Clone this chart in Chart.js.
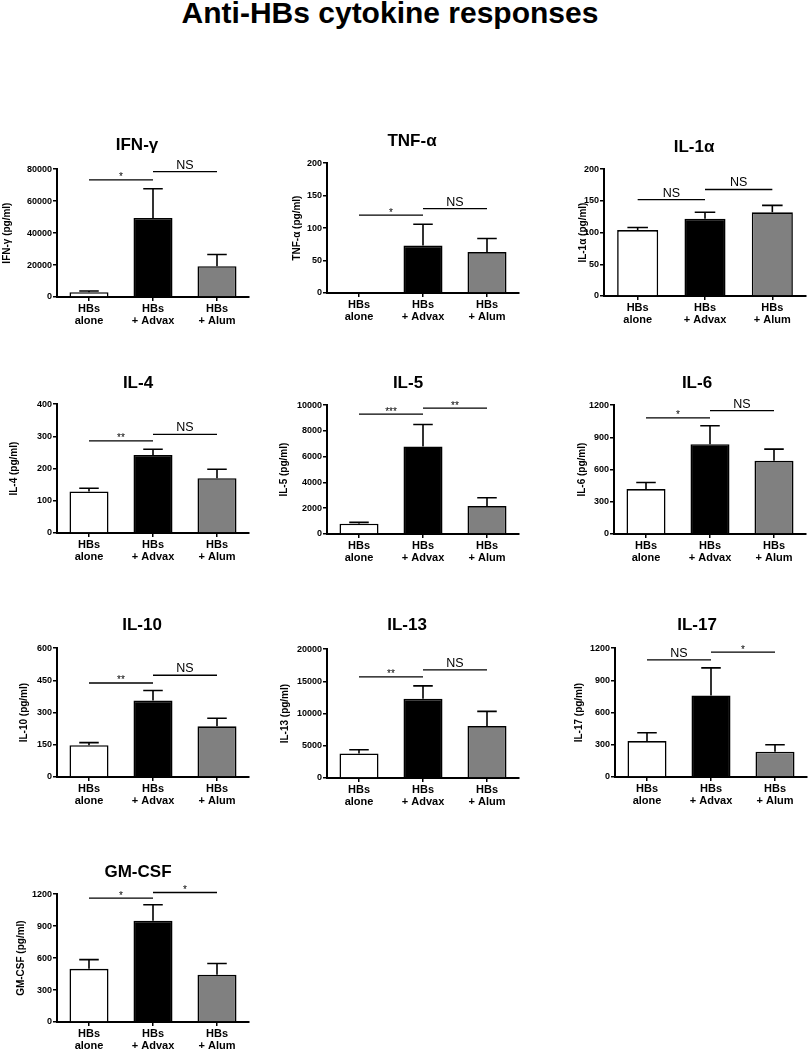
<!DOCTYPE html>
<html>
<head>
<meta charset="utf-8">
<script src="https://cdn.jsdelivr.net/npm/chart.js@4.4.1/dist/chart.umd.min.js"></script>
<style>
  html, body { margin: 0; padding: 0; background: #fff; overflow: hidden; }
  body { width: 809px; height: 1050px; position: relative; }
  #title { position: absolute; left: 0; top: -2px; width: 780px; text-align: center;
           font: bold 30px/1 Arial, "Liberation Sans", sans-serif; color: #000; }
  canvas { position: absolute; }
</style>
</head>
<body>
<div id="title">Anti-HBs cytokine responses</div>
<script>
// groups on the x axis (same for every panel)
const groupLabels = [['HBs', 'alone'], ['HBs', '+ Advax'], ['HBs', '+ Alum']];
const groupColors = ['#ffffff', '#000000', '#808080'];

const cytokines = ['IFN-γ', 'TNF-α', 'IL-1α', 'IL-4', 'IL-5', 'IL-6', 'IL-10', 'IL-13', 'IL-17', 'GM-CSF'];

// mean and SEM (pg/ml)
const ifnMean = [3000, 49500, 19300];
const ifnSem = [800, 18300, 7300];
const tnfMean = [0, 73, 63];
const tnfSem = [0, 33, 21];
const il1aMean = [104, 122, 132];
const il1aSem = [4, 10, 11];
const il4Mean = [129, 242, 170];
const il4Sem = [10, 18, 28];
const il5Mean = [800, 6800, 2170];
const il5Sem = [100, 1700, 640];
const il6Mean = [419, 837, 682];
const il6Sem = [61, 171, 109];
const il10Mean = [148, 356, 236];
const il10Sem = [12, 47, 38];
const il13Mean = [3820, 12300, 8060];
const il13Sem = [570, 2000, 2280];
const il17Mean = [335, 760, 236];
const il17Sem = [77, 257, 65];
const gmcsfMean = [499, 951, 443];
const gmcsfSem = [87, 150, 106];

// significance bars: [from group, to group, height (pg/ml), label]
const ifnSig = [[0, 1, 73300, '*'], [1, 2, 78500, 'NS']];
const tnfSig = [[0, 1, 120, '*'], [1, 2, 130, 'NS']];
const il1aSig = [[0, 1, 152, 'NS'], [1, 2, 168, 'NS']];
const il4Sig = [[0, 1, 286, '**'], [1, 2, 306, 'NS']];
const il5Sig = [[0, 1, 9300, '***'], [1, 2, 9770, '**']];
const il6Sig = [[0, 1, 1082, '*'], [1, 2, 1150, 'NS']];
const il10Sig = [[0, 1, 438, '**'], [1, 2, 474, 'NS']];
const il13Sig = [[0, 1, 15700, '**'], [1, 2, 16800, 'NS']];
const il17Sig = [[0, 1, 1091, 'NS'], [1, 2, 1163, '*']];
const gmcsfSig = [[0, 1, 1163, '*'], [1, 2, 1216, '*']];

// y axis range
const axisMax = [80000, 200, 200, 400, 10000, 1200, 600, 20000, 1200, 1200];
const axisStep = [20000, 50, 50, 100, 2000, 300, 150, 5000, 300, 300];

const means = [ifnMean, tnfMean, il1aMean, il4Mean, il5Mean, il6Mean, il10Mean, il13Mean, il17Mean, gmcsfMean];
const sems = [ifnSem, tnfSem, il1aSem, il4Sem, il5Sem, il6Sem, il10Sem, il13Sem, il17Sem, gmcsfSem];
const sigs = [ifnSig, tnfSig, il1aSig, il4Sig, il5Sig, il6Sig, il10Sig, il13Sig, il17Sig, gmcsfSig];

// page layout: title x, title y, y-title x, plot left, right, top, bottom
const frames = [
  [137, 145, 7, 57, 249, 169, 297],
  [413, 141, 297, 327, 519, 163, 293],
  [707, 147, 583, 604, 806, 169, 296],
  [138, 383, 14, 57, 249, 404, 533],
  [408, 383, 284, 327, 519, 405, 534],
  [697, 383, 582, 614, 806, 405, 534],
  [142, 625, 24, 57, 249, 648, 777],
  [407, 625, 285, 327, 519, 649, 778],
  [697, 625, 579, 615, 807, 648, 777],
  [138, 872, 21, 57, 249, 894, 1022]
];

const FONT = 'Arial, "Liberation Sans", sans-serif';
Chart.defaults.font.family = FONT;
Chart.defaults.color = '#000';

function makeChart(k) {
  const [titleX, titleY, yTitleX, plotL, plotR, plotT, plotB] = frames[k];
  const left = Math.round(yTitleX - 8);
  const top = Math.round(titleY - 12.2);
  const width = plotR - left + 4;
  const height = Math.round(plotB - top + 40);
  // the title is centred between the left padding and the plot's right edge;
  // keep at least 22px for the tick labels
  const padL = Math.min(2 * titleX - plotR - left, plotL - left - 22);
  const yTitlePad = (yTitleX - 6) - (left + padL);
  const mean = means[k], sem = sems[k], sig = sigs[k];

  const cv = document.createElement('canvas');
  cv.width = width;
  cv.height = height;
  cv.style.left = left + 'px';
  cv.style.top = top + 'px';
  cv.style.width = width + 'px';
  cv.style.height = height + 'px';
  document.body.appendChild(cv);

  // error bars and significance lines, placed through the scales
  const marks = {
    id: 'marks',
    afterDatasetsDraw(chart) {
      const ctx = chart.ctx;
      const x = chart.scales.x, y = chart.scales.y;
      const bars = chart.getDatasetMeta(0).data;
      ctx.save();
      ctx.strokeStyle = '#000';
      ctx.fillStyle = '#000';
      ctx.lineWidth = 1.6;
      mean.forEach((m, i) => {
        if (!sem[i]) return;
        const bx = bars[i].x, half = bars[i].width / 4;
        const y0 = y.getPixelForValue(m), y1 = y.getPixelForValue(m + sem[i]);
        ctx.beginPath();
        ctx.moveTo(bx, y0);
        ctx.lineTo(bx, y1);
        ctx.moveTo(bx - half, y1);
        ctx.lineTo(bx + half, y1);
        ctx.stroke();
      });
      ctx.lineWidth = 1.3;
      ctx.textAlign = 'center';
      ctx.textBaseline = 'alphabetic';
      sig.forEach(([a, b, v, txt]) => {
        const yy = y.getPixelForValue(v);
        const xa = x.getPixelForValue(a), xb = x.getPixelForValue(b);
        ctx.beginPath();
        ctx.moveTo(xa, yy);
        ctx.lineTo(xb, yy);
        ctx.stroke();
        if (txt === 'NS') {
          ctx.font = '12.5px ' + FONT;
          ctx.fillText(txt, (xa + xb) / 2, yy - 3);
        } else {
          ctx.font = '10px ' + FONT;
          ctx.fillText(txt, (xa + xb) / 2, yy + 0.5);
        }
      });
      ctx.restore();
    }
  };

  new Chart(cv, {
    type: 'bar',
    data: {
      labels: groupLabels,
      datasets: [{
        data: mean,
        backgroundColor: groupColors,
        borderColor: '#000',
        borderWidth: 1.6,
        barPercentage: 0.61,
        categoryPercentage: 1
      }]
    },
    options: {
      responsive: false,
      animation: false,
      layout: { padding: { left: padL, top: 0, bottom: 0, right: 4 } },
      plugins: {
        legend: { display: false },
        tooltip: { enabled: false },
        title: {
          display: true,
          text: cytokines[k],
          color: '#000',
          font: { size: 17, weight: 'bold', lineHeight: 1.2 },
          padding: { top: 2, bottom: plotT - (titleY + 10.2) }
        }
      },
      scales: {
        x: {
          grid: { offset: false, drawOnChartArea: false, drawTicks: true, tickLength: 4, color: '#000', lineWidth: 1.5 },
          border: { display: true, color: '#000', width: 2 },
          ticks: { font: { size: 11, weight: 'bold', lineHeight: 1.1 }, padding: 2, maxRotation: 0, autoSkip: false },
          afterFit(s) { s.height = 40; }
        },
        y: {
          min: 0,
          max: axisMax[k],
          ticks: {
            stepSize: axisStep[k],
            font: { size: 9, weight: 'bold' },
            padding: 1,
            callback: v => String(v)
          },
          grid: { drawOnChartArea: false, drawTicks: true, tickLength: 4, color: '#000', lineWidth: 1.5 },
          border: { display: true, color: '#000', width: 2 },
          title: {
            display: true,
            text: cytokines[k] + ' (pg/ml)',
            font: { size: 10, weight: 'bold', lineHeight: 1.2 },
            padding: { top: yTitlePad, bottom: 0 }
          },
          afterFit(s) { s.width = plotL - left - padL; }
        }
      }
    },
    plugins: [marks]
  });
}

cytokines.forEach((c, k) => makeChart(k));
</script>
</body>
</html>
